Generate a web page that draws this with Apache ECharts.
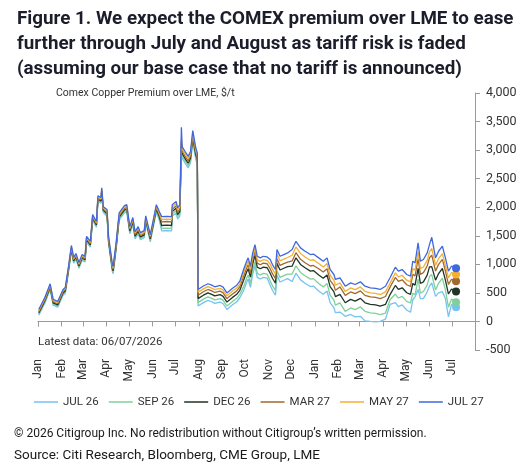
<!DOCTYPE html>
<html>
<head>
<meta charset="utf-8">
<script src="https://cdn.jsdelivr.net/npm/echarts@6.0.0/dist/echarts.min.js"></script>
<style>
html,body{margin:0;padding:0;background:#fff;}
#chart{width:527px;height:467px;}
</style>
</head>
<body>
<div id="chart"></div>
<script>
const dates = [
'2025-01-02','2025-01-10','2025-01-17','2025-01-21','2025-01-27','2025-02-03','2025-02-06','2025-02-10','2025-02-14','2025-02-17',
'2025-02-20','2025-02-24','2025-02-28','2025-03-04','2025-03-06','2025-03-11','2025-03-14','2025-03-19','2025-03-21','2025-03-25',
'2025-03-26','2025-03-28','2025-04-02','2025-04-04','2025-04-09','2025-04-10','2025-04-14','2025-04-18','2025-04-25','2025-04-28',
'2025-05-02','2025-05-06','2025-05-09','2025-05-13','2025-05-16','2025-05-21','2025-05-23','2025-05-29','2025-06-02','2025-06-06',
'2025-06-10','2025-06-13','2025-06-20','2025-06-26','2025-06-27','2025-07-02','2025-07-04','2025-07-07','2025-07-09','2025-07-10',
'2025-07-15','2025-07-18','2025-07-21','2025-07-24','2025-07-28','2025-07-30','2025-07-31','2025-08-01','2025-08-07','2025-08-13',
'2025-08-18','2025-08-22','2025-08-29','2025-09-02','2025-09-07','2025-09-14','2025-09-20','2025-09-24','2025-09-29','2025-10-03',
'2025-10-05','2025-10-08','2025-10-11','2025-10-14','2025-10-17','2025-10-21','2025-10-25','2025-10-30','2025-11-03','2025-11-06',
'2025-11-10','2025-11-12','2025-11-16','2025-11-21','2025-11-26','2025-12-02','2025-12-07','2025-12-13','2025-12-19','2025-12-26',
'2025-12-30','2026-01-06','2026-01-12','2026-01-17','2026-01-21','2026-01-26','2026-01-28','2026-02-03','2026-02-10','2026-02-17',
'2026-02-23','2026-03-02','2026-03-08','2026-03-15','2026-03-22','2026-03-28','2026-04-04','2026-04-10','2026-04-17','2026-04-21',
'2026-04-26','2026-05-02','2026-05-07','2026-05-10','2026-05-13','2026-05-17','2026-05-20','2026-05-24','2026-05-29','2026-06-01',
'2026-06-04','2026-06-09','2026-06-13','2026-06-18','2026-06-22','2026-06-26','2026-06-30','2026-07-03','2026-07-06'
];

const jul27 = [
210,420,660,385,350,560,595,945,1330,1120,
1190,1030,1170,1140,1490,1400,1870,1750,2200,2170,
2340,2010,1960,1490,1000,960,1380,1900,2030,2045,
1660,1820,1570,1660,1555,1590,1850,1520,1780,2045,
1920,1835,1840,1835,2045,2100,1990,2045,3400,3060,
2950,2890,2977,3340,3036,2950,560,590,620,660,
635,607,630,600,500,577,635,705,910,1055,
1113,967,1200,1346,1141,1113,1141,1130,1084,996,
909,1259,1141,1171,1200,1259,1404,1288,1229,1171,
1180,1113,1055,1113,910,822,735,764,617,676,
647,694,617,589,580,560,617,764,950,880,
909,822,793,1055,1026,1375,1055,1084,1200,1346,
1474,1113,1229,1317,1113,880,967,950,930
];

const may27 = [
190,400,640,365,330,540,575,925,1310,1100,
1170,1010,1150,1120,1470,1380,1850,1730,2180,2150,
2320,1990,1935,1465,975,935,1355,1875,2005,2020,
1635,1795,1545,1635,1530,1565,1825,1495,1755,2020,
1890,1785,1790,1785,2005,2060,1950,2005,3200,3020,
2910,2850,2937,3300,2996,2910,510,540,570,610,
585,557,580,550,450,527,585,655,850,995,
1053,907,1140,1286,1081,1053,1081,1070,1004,916,
829,1179,1061,1091,1120,1159,1304,1188,1129,1071,
1080,1013,955,1013,810,722,635,674,527,586,
557,604,527,499,490,470,517,670,850,780,
809,722,693,925,896,1220,925,954,1070,1216,
1280,983,1099,1187,983,760,857,840,822
];

const mar27 = [
170,380,620,345,310,520,555,905,1290,1080,
1150,990,1130,1100,1450,1360,1830,1710,2160,2130,
2300,1970,1910,1440,950,910,1330,1850,1980,1995,
1610,1770,1520,1610,1505,1540,1800,1470,1730,1995,
1860,1745,1750,1745,1965,2020,1910,1965,3150,2980,
2870,2810,2897,3260,2956,2870,460,490,520,560,
535,507,530,500,400,477,535,605,790,935,
993,847,1080,1226,1021,993,1021,1010,924,836,
749,1099,981,1011,1040,1059,1204,1088,1029,971,
980,923,865,923,720,632,545,604,457,516,
487,534,457,429,420,400,437,600,770,700,
729,642,613,825,796,1100,825,854,970,1116,
1160,883,999,1087,883,650,737,720,705
];

const dec26 = [
150,360,600,325,290,500,535,885,1270,1060,
1130,970,1110,1080,1430,1340,1810,1690,2140,2110,
2280,1950,1885,1415,925,885,1305,1825,1955,1970,
1585,1745,1495,1585,1480,1515,1775,1445,1705,1970,
1830,1680,1685,1680,1925,1980,1870,1925,3100,2940,
2830,2770,2857,3220,2916,2830,400,430,460,500,
475,447,470,440,340,417,475,545,720,865,
923,777,1010,1156,951,923,951,940,844,756,
669,1019,901,931,960,969,1114,998,939,881,
890,813,755,813,610,522,435,474,327,386,
357,404,327,299,290,270,297,470,630,560,
589,502,473,665,636,930,665,694,810,956,
960,723,839,927,723,480,567,550,524
];

const sep26 = [
130,340,580,305,270,480,515,865,1250,1040,
1110,950,1090,1060,1410,1320,1790,1670,2120,2090,
2260,1930,1860,1390,900,860,1280,1800,1930,1945,
1560,1720,1470,1560,1455,1490,1750,1420,1680,1945,
1800,1630,1635,1630,1885,1940,1830,1885,3050,2900,
2790,2730,2817,3180,2876,2790,330,360,390,430,
405,377,400,370,270,347,405,475,610,755,
813,667,900,1046,841,813,841,830,714,626,
539,889,771,801,830,829,974,858,799,741,
750,663,605,663,460,372,285,324,177,236,
207,254,177,149,140,120,147,380,480,410,
439,352,323,495,466,740,495,524,640,786,
820,553,669,757,553,250,390,370,337
];

const jul26 = [
110,320,560,285,250,460,495,845,1230,1020,
1090,930,1070,1040,1390,1300,1770,1650,2100,2070,
2240,1910,1835,1365,875,835,1255,1775,1905,1920,
1535,1695,1445,1535,1430,1465,1725,1395,1655,1920,
1770,1585,1590,1585,1845,1900,1790,1845,3000,2860,
2750,2690,2777,3140,2836,2750,270,300,330,370,
345,317,340,310,210,287,345,415,540,685,
743,597,830,976,771,743,771,760,634,546,
459,809,691,721,750,699,844,728,669,611,
620,533,475,533,330,242,155,164,90,122,
80,90,10,0,-5,0,40,297,330,260,
290,200,160,380,430,560,400,400,520,620,
676,440,500,520,400,80,300,270,250
];

const seriesNames = ['JUL 26','SEP 26','DEC 26','MAR 27','MAY 27','JUL 27'];
const seriesColors = ['#74C3F0','#7FD09A','#1F3526','#A2692E','#F2B035','#3F68DE'];
const yTicks = {min: -500, max: 4000, step: 500};
const monthNames = ['Jan','Feb','Mar','Apr','May','Jun','Jul','Aug','Sep','Oct','Nov','Dec'];

const valueSets = [jul26, sep26, dec26, mar27, may27, jul27];
const FONT = 'Roboto, "Liberation Sans", sans-serif';

function buildData(vals, color) {
  return dates.map(function (d, i) {
    if (i === dates.length - 1) {
      return {value: [d, vals[i]], symbol: 'circle', symbolSize: 8, itemStyle: {color: color}};
    }
    return [d, vals[i]];
  });
}

const xMin = '2025-01-01';
const xMax = '2026-07-31';
const DAY = 86400000;

const chart = echarts.init(document.getElementById('chart'), null, {renderer: 'canvas'});
const option = {
  backgroundColor: '#ffffff',
  animation: false,
  title: {
    text: 'Figure 1. We expect the COMEX premium over LME to ease\nfurther through July and August as tariff risk is faded\n(assuming our base case that no tariff is announced)',
    left: 12, top: 2,
    textStyle: {fontFamily: FONT, fontSize: 18.8, fontWeight: 'bold', color: '#1b1d2b', lineHeight: 25}
  },
  grid: {left: 38, right: 52, top: 93, bottom: 117, containLabel: false},
  legend: {
    data: seriesNames,
    left: 29, top: 391,
    icon: 'rect', itemWidth: 24, itemHeight: 1.5, itemGap: 10,
    textStyle: {fontFamily: FONT, fontSize: 11.5, color: '#333'}
  },
  xAxis: [
    {
      type: 'time', min: xMin, max: xMax,
      splitNumber: 19, minInterval: 28 * DAY, maxInterval: 31 * DAY,
      axisLine: {onZero: true, lineStyle: {color: '#9a9a9a', width: 1}},
      axisTick: {show: true, length: 5, lineStyle: {color: '#9a9a9a'}},
      axisLabel: {show: false},
      splitLine: {show: false}
    },
    {
      type: 'time', min: xMin, max: xMax, position: 'bottom',
      splitNumber: 19, minInterval: 28 * DAY, maxInterval: 31 * DAY,
      axisLine: {show: false, onZero: false},
      axisTick: {show: false},
      splitLine: {show: false},
      axisLabel: {
        show: true, rotate: 90, margin: 9, fontFamily: FONT, fontSize: 12, color: '#333',
        showMaxLabel: false, showMinLabel: true, hideOverlap: false,
        formatter: function (v) { return monthNames[new Date(v).getMonth()]; }
      }
    }
  ],
  yAxis: {
    type: 'value', position: 'right', min: yTicks.min, max: yTicks.max, interval: yTicks.step,
    axisLine: {show: true, lineStyle: {color: '#9a9a9a'}},
    axisTick: {show: true, length: 5, lineStyle: {color: '#9a9a9a'}},
    splitLine: {show: false},
    axisLabel: {fontFamily: FONT, fontSize: 12.5, color: '#333', margin: 11}
  },
  graphic: [
    {type: 'text', left: 56, top: 88, style: {text: 'Comex Copper Premium over LME, $/t', fontFamily: FONT, fontSize: 10.5, fill: '#333'}},
    {type: 'text', left: 38, top: 336, style: {text: 'Latest data: 06/07/2026', fontFamily: FONT, fontSize: 11.5, fill: '#333'}},
    {type: 'text', left: 14, top: 428, style: {text: '\u00A9 2026 Citigroup Inc. No redistribution without Citigroup\u2019s written permission.', fontFamily: FONT, fontSize: 12, fill: '#1a1a1a'}},
    {type: 'text', left: 14, top: 449, style: {text: 'Source: Citi Research, Bloomberg, CME Group, LME', fontFamily: FONT, fontSize: 13.5, fill: '#1a1a1a'}}
  ],
  series: seriesNames.map(function (name, k) {
    return {
      name: name, type: 'line', xAxisIndex: 0,
      symbol: 'none', showSymbol: true,
      lineStyle: {width: 1.3, color: seriesColors[k]},
      itemStyle: {color: seriesColors[k]},
      emphasis: {disabled: true},
      data: buildData(valueSets[k], seriesColors[k])
    };
  })
};
chart.setOption(option);
</script>
</body>
</html>
